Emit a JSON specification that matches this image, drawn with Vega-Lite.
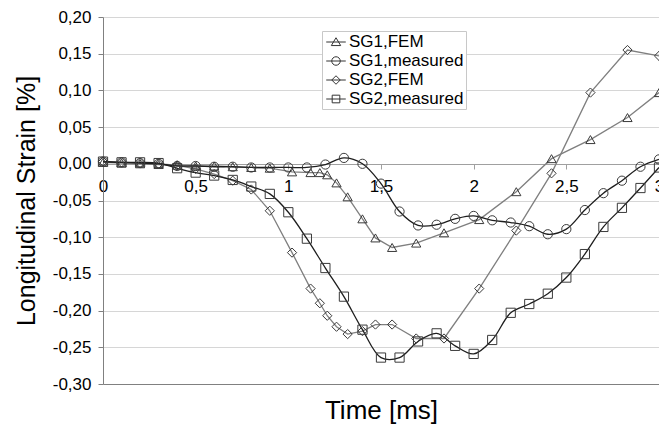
{
  "$schema": "https://vega.github.io/schema/vega-lite/v6.json",
  "width": 556,
  "height": 367,
  "autosize": {"type": "none"},
  "padding": {"left": 103, "top": 17, "right": 0, "bottom": 47},
  "background": "white",
  "config": {
    "font": "Liberation Sans",
    "view": {"stroke": null},
    "axis": {"labelFont": "Liberation Sans", "titleFont": "Liberation Sans", "labelColor": "#000000", "titleColor": "#000000", "titleFontWeight": "normal"},
    "axisY": {"values": [-0.3, -0.25, -0.2, -0.15, -0.1, -0.05, 0, 0.05, 0.1, 0.15, 0.2],
      "labelExpr": "replace(replace(format(datum.value, '.2f'), '.', ','), '\u2212', '-')",
      "labelOverlap": false, "grid": true, "gridColor": "#d6d6d6", "domainColor": "#808080", "tickColor": "#808080", "tickSize": 5,
      "labelFontSize": 17, "labelPadding": 7, "titleFontSize": 25, "titlePadding": 13}
  },
  "data": {
    "values": [
      {"s": "SG1,FEM", "t": 0, "v": 0.002},
      {"s": "SG1,FEM", "t": 0.1, "v": 0.001},
      {"s": "SG1,FEM", "t": 0.2, "v": 0.0},
      {"s": "SG1,FEM", "t": 0.3, "v": -0.001},
      {"s": "SG1,FEM", "t": 0.4, "v": -0.002},
      {"s": "SG1,FEM", "t": 0.5, "v": -0.003},
      {"s": "SG1,FEM", "t": 0.6, "v": -0.003},
      {"s": "SG1,FEM", "t": 0.7, "v": -0.004},
      {"s": "SG1,FEM", "t": 0.8, "v": -0.005},
      {"s": "SG1,FEM", "t": 0.9, "v": -0.006},
      {"s": "SG1,FEM", "t": 1.02, "v": -0.011},
      {"s": "SG1,FEM", "t": 1.12, "v": -0.012},
      {"s": "SG1,FEM", "t": 1.17, "v": -0.012},
      {"s": "SG1,FEM", "t": 1.21, "v": -0.015},
      {"s": "SG1,FEM", "t": 1.26, "v": -0.026},
      {"s": "SG1,FEM", "t": 1.32, "v": -0.045},
      {"s": "SG1,FEM", "t": 1.40, "v": -0.075},
      {"s": "SG1,FEM", "t": 1.47, "v": -0.101},
      {"s": "SG1,FEM", "t": 1.56, "v": -0.114},
      {"s": "SG1,FEM", "t": 1.69, "v": -0.108},
      {"s": "SG1,FEM", "t": 1.84, "v": -0.094},
      {"s": "SG1,FEM", "t": 2.03, "v": -0.076},
      {"s": "SG1,FEM", "t": 2.23, "v": -0.038},
      {"s": "SG1,FEM", "t": 2.42, "v": 0.007},
      {"s": "SG1,FEM", "t": 2.63, "v": 0.033},
      {"s": "SG1,FEM", "t": 2.83, "v": 0.063},
      {"s": "SG1,FEM", "t": 3.0, "v": 0.097},
      {"s": "SG1,measured", "t": 0, "v": 0.003},
      {"s": "SG1,measured", "t": 0.1, "v": 0.002},
      {"s": "SG1,measured", "t": 0.2, "v": 0.001},
      {"s": "SG1,measured", "t": 0.3, "v": 0.0},
      {"s": "SG1,measured", "t": 0.4, "v": -0.003},
      {"s": "SG1,measured", "t": 0.5, "v": -0.003},
      {"s": "SG1,measured", "t": 0.6, "v": -0.004},
      {"s": "SG1,measured", "t": 0.7, "v": -0.004},
      {"s": "SG1,measured", "t": 0.8, "v": -0.005},
      {"s": "SG1,measured", "t": 0.9, "v": -0.005},
      {"s": "SG1,measured", "t": 1.0, "v": -0.005},
      {"s": "SG1,measured", "t": 1.1, "v": -0.005},
      {"s": "SG1,measured", "t": 1.2, "v": -0.001},
      {"s": "SG1,measured", "t": 1.3, "v": 0.008},
      {"s": "SG1,measured", "t": 1.4, "v": 0.0},
      {"s": "SG1,measured", "t": 1.5, "v": -0.027},
      {"s": "SG1,measured", "t": 1.6, "v": -0.065},
      {"s": "SG1,measured", "t": 1.7, "v": -0.084},
      {"s": "SG1,measured", "t": 1.8, "v": -0.083},
      {"s": "SG1,measured", "t": 1.9, "v": -0.075},
      {"s": "SG1,measured", "t": 2.0, "v": -0.071},
      {"s": "SG1,measured", "t": 2.1, "v": -0.077},
      {"s": "SG1,measured", "t": 2.2, "v": -0.080},
      {"s": "SG1,measured", "t": 2.3, "v": -0.085},
      {"s": "SG1,measured", "t": 2.4, "v": -0.096},
      {"s": "SG1,measured", "t": 2.5, "v": -0.089},
      {"s": "SG1,measured", "t": 2.6, "v": -0.063},
      {"s": "SG1,measured", "t": 2.7, "v": -0.040},
      {"s": "SG1,measured", "t": 2.8, "v": -0.023},
      {"s": "SG1,measured", "t": 2.9, "v": -0.004},
      {"s": "SG1,measured", "t": 3.0, "v": 0.006},
      {"s": "SG2,FEM", "t": 0, "v": 0.003},
      {"s": "SG2,FEM", "t": 0.1, "v": 0.002},
      {"s": "SG2,FEM", "t": 0.2, "v": 0.001},
      {"s": "SG2,FEM", "t": 0.3, "v": 0.0},
      {"s": "SG2,FEM", "t": 0.4, "v": -0.002},
      {"s": "SG2,FEM", "t": 0.5, "v": -0.007},
      {"s": "SG2,FEM", "t": 0.6, "v": -0.014},
      {"s": "SG2,FEM", "t": 0.7, "v": -0.023},
      {"s": "SG2,FEM", "t": 0.8, "v": -0.035},
      {"s": "SG2,FEM", "t": 0.9, "v": -0.064},
      {"s": "SG2,FEM", "t": 1.02, "v": -0.121},
      {"s": "SG2,FEM", "t": 1.12, "v": -0.170},
      {"s": "SG2,FEM", "t": 1.17, "v": -0.190},
      {"s": "SG2,FEM", "t": 1.21, "v": -0.207},
      {"s": "SG2,FEM", "t": 1.26, "v": -0.222},
      {"s": "SG2,FEM", "t": 1.32, "v": -0.232},
      {"s": "SG2,FEM", "t": 1.40, "v": -0.228},
      {"s": "SG2,FEM", "t": 1.47, "v": -0.219},
      {"s": "SG2,FEM", "t": 1.56, "v": -0.219},
      {"s": "SG2,FEM", "t": 1.69, "v": -0.238},
      {"s": "SG2,FEM", "t": 1.84, "v": -0.238},
      {"s": "SG2,FEM", "t": 2.03, "v": -0.170},
      {"s": "SG2,FEM", "t": 2.23, "v": -0.091},
      {"s": "SG2,FEM", "t": 2.42, "v": -0.013},
      {"s": "SG2,FEM", "t": 2.63, "v": 0.097},
      {"s": "SG2,FEM", "t": 2.83, "v": 0.155},
      {"s": "SG2,FEM", "t": 3.0, "v": 0.147},
      {"s": "SG2,measured", "t": 0, "v": 0.003},
      {"s": "SG2,measured", "t": 0.1, "v": 0.002},
      {"s": "SG2,measured", "t": 0.2, "v": 0.002},
      {"s": "SG2,measured", "t": 0.3, "v": 0.001},
      {"s": "SG2,measured", "t": 0.4, "v": -0.006},
      {"s": "SG2,measured", "t": 0.5, "v": -0.012},
      {"s": "SG2,measured", "t": 0.6, "v": -0.016},
      {"s": "SG2,measured", "t": 0.7, "v": -0.022},
      {"s": "SG2,measured", "t": 0.8, "v": -0.031},
      {"s": "SG2,measured", "t": 0.9, "v": -0.041},
      {"s": "SG2,measured", "t": 1.0, "v": -0.066},
      {"s": "SG2,measured", "t": 1.1, "v": -0.102},
      {"s": "SG2,measured", "t": 1.2, "v": -0.142},
      {"s": "SG2,measured", "t": 1.3, "v": -0.181},
      {"s": "SG2,measured", "t": 1.4, "v": -0.226},
      {"s": "SG2,measured", "t": 1.5, "v": -0.264},
      {"s": "SG2,measured", "t": 1.6, "v": -0.264},
      {"s": "SG2,measured", "t": 1.7, "v": -0.242},
      {"s": "SG2,measured", "t": 1.8, "v": -0.231},
      {"s": "SG2,measured", "t": 1.9, "v": -0.248},
      {"s": "SG2,measured", "t": 2.0, "v": -0.259},
      {"s": "SG2,measured", "t": 2.1, "v": -0.240},
      {"s": "SG2,measured", "t": 2.2, "v": -0.203},
      {"s": "SG2,measured", "t": 2.3, "v": -0.191},
      {"s": "SG2,measured", "t": 2.4, "v": -0.177},
      {"s": "SG2,measured", "t": 2.5, "v": -0.155},
      {"s": "SG2,measured", "t": 2.6, "v": -0.123},
      {"s": "SG2,measured", "t": 2.7, "v": -0.086},
      {"s": "SG2,measured", "t": 2.8, "v": -0.060},
      {"s": "SG2,measured", "t": 2.9, "v": -0.033},
      {"s": "SG2,measured", "t": 3.0, "v": -0.005}
    ]
  },
  "resolve": {"scale": {"shape": "independent"}, "axis": {"x": "independent"}},
  "layer": [
    {
      "transform": [{"filter": "indexof(datum.s, 'FEM') >= 0"}],
      "mark": {"type": "line", "color": "#7f7f7f", "strokeWidth": 1.3, "clip": true},
      "encoding": {
        "x": {"field": "t", "type": "quantitative", "scale": {"domain": [0, 3], "nice": false, "zero": false},
          "axis": {"orient": "bottom", "offset": -220, "values": [0, 0.5, 1, 1.5, 2, 2.5, 3],
            "labelExpr": "replace(toString(datum.value), '.', ',')", "labelFlush": false, "labelOverlap": false,
            "title": null, "grid": false, "domainColor": "#a0a0a0", "tickColor": "#a0a0a0", "tickSize": 5,
            "labelFontSize": 17, "labelPadding": 9, "zindex": 0}},
        "y": {"field": "v", "type": "quantitative", "scale": {"domain": [-0.3, 0.2], "nice": false, "zero": false},
          "axis": {"title": "Longitudinal Strain [%]", "tickCount": 11}},
        "detail": {"field": "s"},
        "order": {"field": "t"}
      }
    },
    {
      "transform": [{"filter": "indexof(datum.s, 'measured') >= 0"}],
      "mark": {"type": "line", "color": "#1e1e1e", "strokeWidth": 1.3, "interpolate": "catmull-rom", "clip": true},
      "encoding": {
        "x": {"field": "t", "type": "quantitative", "axis": null},
        "y": {"field": "v", "type": "quantitative", "axis": {"title": "Longitudinal Strain [%]", "tickCount": 11}},
        "detail": {"field": "s"},
        "order": {"field": "t"}
      }
    },
    {
      "mark": {"type": "point", "filled": false, "color": "#3a3a3a", "strokeWidth": 1, "size": 85, "opacity": 1},
      "encoding": {
        "x": {"field": "t", "type": "quantitative", "axis": null},
        "y": {"field": "v", "type": "quantitative", "axis": {"title": "Longitudinal Strain [%]", "tickCount": 11}},
        "shape": {"field": "s", "type": "nominal",
          "scale": {"domain": ["SG1,FEM", "SG1,measured", "SG2,FEM", "SG2,measured"], "range": ["triangle-up", "circle", "diamond", "square"]},
          "legend": null}
      }
    },
    {
      "mark": {"type": "point", "filled": false, "color": "#333333", "strokeWidth": 1, "opacity": 0},
      "encoding": {
        "x": {"field": "t", "type": "quantitative",
          "axis": {"orient": "bottom", "labels": false, "ticks": false, "grid": false, "domain": true, "domainColor": "#808080",
            "title": "Time [ms]", "titleFontSize": 26, "titlePadding": 13}},
        "y": {"field": "v", "type": "quantitative", "axis": {"title": "Longitudinal Strain [%]", "tickCount": 11}},
        "shape": {"field": "s", "type": "nominal",
          "scale": {"domain": ["SG1,FEM", "SG1,measured", "SG2,FEM", "SG2,measured"],
            "range": [
              "M-1.15,0H1.15M0,-0.5L0.55,0.42L-0.55,0.42Z",
              "M-1.15,0H1.15M0.5,0A0.5,0.5,0,1,1,-0.5,0A0.5,0.5,0,1,1,0.5,0Z",
              "M-1.15,0H1.15M0,-0.5L0.5,0L0,0.5L-0.5,0Z",
              "M-1.15,0H1.15M-0.45,-0.45H0.45V0.45H-0.45Z"
            ]},
          "legend": {"orient": "none", "legendX": 219, "legendY": 14, "title": null, "padding": 2,
            "fillColor": "white", "strokeColor": "#c8c8c8", "labelFontSize": 17, "labelFont": "Liberation Sans",
            "labelColor": "#000000", "symbolSize": 289, "symbolStrokeColor": "#333333", "symbolStrokeWidth": 1,
            "symbolFillColor": "transparent", "symbolOpacity": 1, "symbolOffset": 3, "labelOffset": 4, "rowPadding": 2}}
      }
    }
  ]
}
